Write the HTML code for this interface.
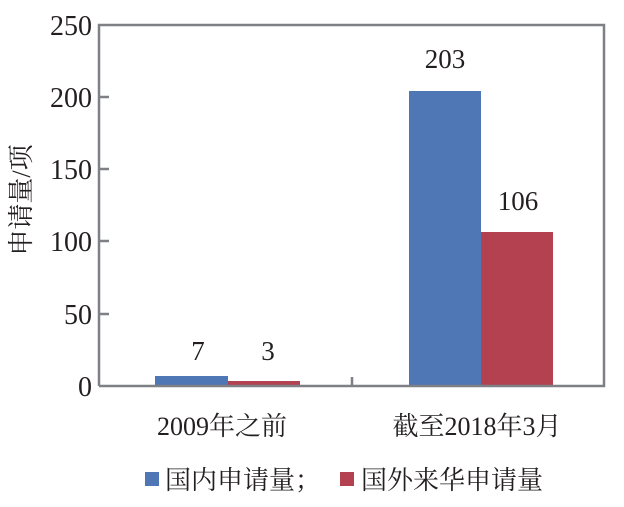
<!DOCTYPE html>
<html><head><meta charset="utf-8"><style>
html,body{margin:0;padding:0;background:#fff;}
svg text{font-family:"Liberation Serif","Noto Serif CJK SC",serif;fill:#231f20;}
</style></head><body>
<svg width="624" height="502" viewBox="0 0 624 502" xmlns="http://www.w3.org/2000/svg">
<rect x="155" y="376" width="73" height="10" fill="#4f77b5"/>
<rect x="228" y="381" width="72" height="5" fill="#b44150"/>
<rect x="409" y="91" width="72" height="295" fill="#4f77b5"/>
<rect x="481" y="232" width="72" height="154" fill="#b44150"/>
<g stroke="#7f8085" stroke-width="2.5" fill="none">
<path d="M99,386 V25 H604 V386 H99"/>
<path d="M99,97 H109 M99,169 H109 M99,241 H109 M99,314 H109 M352,386 V377"/>
</g>
<g font-size="28" text-anchor="end">
<text x="92" y="35">250</text><text x="92" y="107">200</text><text x="92" y="179">150</text>
<text x="92" y="251">100</text><text x="92" y="324">50</text><text x="92" y="396">0</text>
</g>
<g font-size="27" text-anchor="middle">
<text x="198" y="360">7</text><text x="268" y="360">3</text>
<text x="445" y="68">203</text><text x="518" y="210">106</text>
<text x="222" y="435" font-size="26">2009年之前</text>
<text x="477" y="435" font-size="26">截至2018年3月</text>
</g>
<text transform="translate(30,200) rotate(-90)" font-size="26" text-anchor="middle">申请量/项</text>
<rect x="145" y="472" width="14" height="14" fill="#4f77b5"/>
<text x="165" y="489" font-size="26">国内申请量；</text>
<rect x="340" y="472" width="14" height="14" fill="#b44150"/>
<text x="361" y="489" font-size="26">国外来华申请量</text>
</svg>
</body></html>
